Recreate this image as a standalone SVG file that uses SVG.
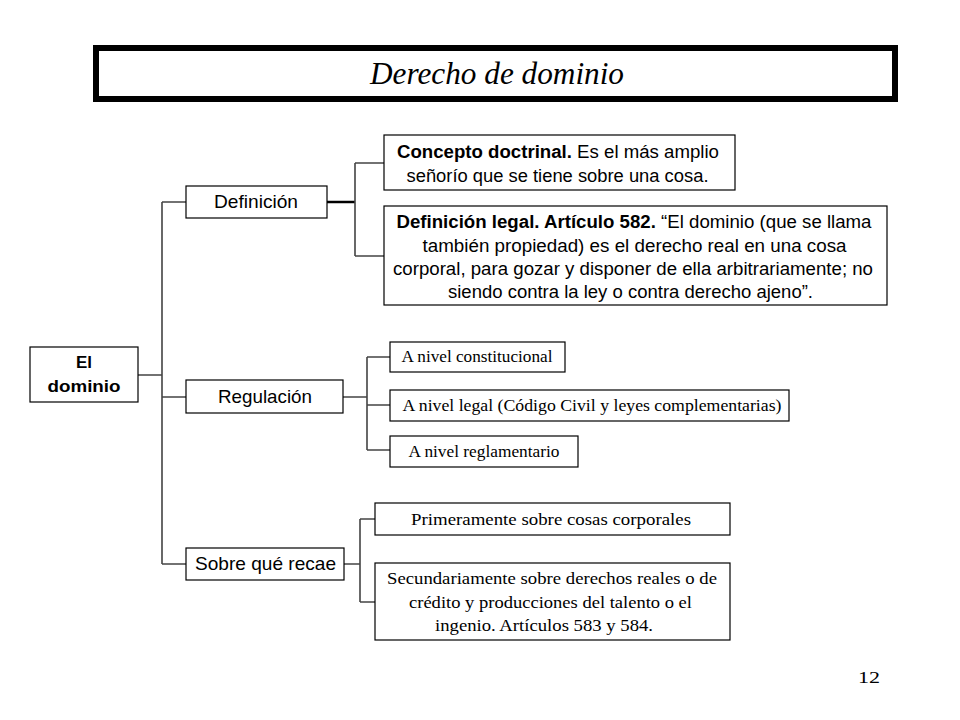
<svg xmlns="http://www.w3.org/2000/svg" width="960" height="720" viewBox="0 0 960 720">
<style>
.box{fill:#fff;stroke:#000;stroke-width:1.2}
.sans{font-family:"Liberation Sans",Arial,sans-serif;fill:#000;text-anchor:middle}
.serif{font-family:"Liberation Serif","Times New Roman",serif;fill:#000;text-anchor:middle}
.c{stroke:#444;stroke-width:1.6;fill:none}
</style>
<rect width="960" height="720" fill="#fff"/>
<g id="title">
<rect x="96" y="48" width="799" height="51" fill="#fff" stroke="#000" stroke-width="6"/>
<text x="497" y="84" class="serif" font-style="italic" font-size="32" textLength="254" lengthAdjust="spacingAndGlyphs">Derecho de dominio</text>
</g>
<g id="connectors">
<path class="c" d="M138 375H162M162 202V564M162 202H186M162 397H186M162 564H186"/>
<path d="M327 202H355" stroke="#000" stroke-width="2.5"/>
<path class="c" d="M355 163V256M355 163H384M355 256H384"/>
<path class="c" d="M343 397H367M367 357V450M367 357H390M367 405H390M367 450H390"/>
<path class="c" d="M344 564H360M360 519V602M360 519H375M360 602H375"/>
</g>
<g id="el-dominio">
<rect class="box" x="30" y="347" width="108" height="55"/>
<text class="sans" font-size="16.5" font-weight="bold" x="84" y="368" textLength="16" lengthAdjust="spacingAndGlyphs">El</text>
<text class="sans" font-size="16.5" font-weight="bold" x="84" y="392" textLength="73" lengthAdjust="spacingAndGlyphs">dominio</text>
</g>
<g id="definicion">
<rect class="box" x="186" y="186" width="141" height="32"/>
<text class="sans" font-size="18.5" x="256" y="208" textLength="84" lengthAdjust="spacingAndGlyphs">Definición</text>
</g>
<g id="regulacion">
<rect class="box" x="186" y="380" width="157" height="33"/>
<text class="sans" font-size="18.5" x="265" y="403" textLength="94" lengthAdjust="spacingAndGlyphs">Regulación</text>
</g>
<g id="sobre">
<rect class="box" x="186" y="548" width="158" height="32"/>
<text class="sans" font-size="18.5" x="265.5" y="570" textLength="141" lengthAdjust="spacingAndGlyphs">Sobre qué recae</text>
</g>
<g id="concepto">
<rect class="box" x="384" y="135" width="351" height="55"/>
<text class="sans" font-size="17.5" x="558" y="158" textLength="322" lengthAdjust="spacingAndGlyphs"><tspan font-weight="bold">Concepto doctrinal.</tspan> Es el más amplio</text>
<text class="sans" font-size="17.5" x="557.5" y="182" textLength="302" lengthAdjust="spacingAndGlyphs">señorío que se tiene sobre una cosa.</text>
</g>
<g id="def-legal">
<rect class="box" x="384" y="206" width="503" height="99"/>
<text class="sans" font-size="17.5" x="634" y="228" textLength="475" lengthAdjust="spacingAndGlyphs"><tspan font-weight="bold">Definición legal. Artículo 582.</tspan> “El dominio (que se llama</text>
<text class="sans" font-size="17.5" x="634.5" y="252" textLength="424" lengthAdjust="spacingAndGlyphs">también propiedad) es el derecho real en una cosa</text>
<text class="sans" font-size="17.5" x="633" y="275" textLength="480" lengthAdjust="spacingAndGlyphs">corporal, para gozar y disponer de ella arbitrariamente; no</text>
<text class="sans" font-size="17.5" x="630.5" y="298" textLength="365" lengthAdjust="spacingAndGlyphs">siendo contra la ley o contra derecho ajeno”.</text>
</g>
<g id="constitucional">
<rect class="box" x="390" y="342" width="175" height="30"/>
<text class="serif" font-size="17" x="477" y="362" textLength="151" lengthAdjust="spacingAndGlyphs">A nivel constitucional</text>
</g>
<g id="legal">
<rect class="box" x="390" y="390" width="399" height="31"/>
<text class="serif" font-size="17" x="592" y="411" textLength="379" lengthAdjust="spacingAndGlyphs">A nivel legal (Código Civil y leyes complementarias)</text>
</g>
<g id="reglamentario">
<rect class="box" x="390" y="436" width="188" height="31"/>
<text class="serif" font-size="17" x="484" y="457" textLength="151" lengthAdjust="spacingAndGlyphs">A nivel reglamentario</text>
</g>
<g id="primeramente">
<rect class="box" x="375" y="503" width="355" height="32"/>
<text class="serif" font-size="17" x="551" y="525" textLength="280" lengthAdjust="spacingAndGlyphs">Primeramente sobre cosas corporales</text>
</g>
<g id="secundariamente">
<rect class="box" x="375" y="563" width="355" height="77"/>
<text class="serif" font-size="17" x="552" y="584" textLength="330" lengthAdjust="spacingAndGlyphs">Secundariamente sobre derechos reales o de</text>
<text class="serif" font-size="17" x="550.5" y="607.5" textLength="283" lengthAdjust="spacingAndGlyphs">crédito y producciones del talento o el</text>
<text class="serif" font-size="17" x="544" y="631" textLength="218" lengthAdjust="spacingAndGlyphs">ingenio. Artículos 583 y 584.</text>
</g>
<text class="serif" font-size="17" x="869" y="683" textLength="22" lengthAdjust="spacingAndGlyphs">12</text>
</svg>
